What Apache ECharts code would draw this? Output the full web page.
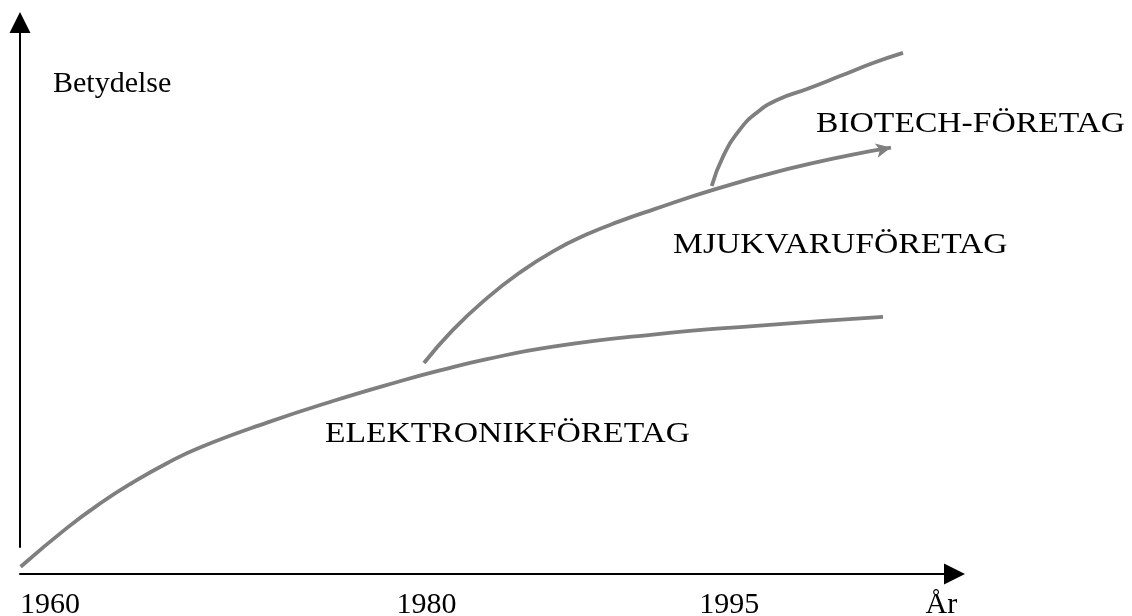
<!DOCTYPE html>
<html>
<head>
<meta charset="utf-8">
<script src="https://cdn.jsdelivr.net/npm/echarts@6/dist/echarts.min.js"></script>
<style>
html,body{margin:0;padding:0;background:#fff;}
#chart{width:1132px;height:616px;}
</style>
</head>
<body>
<div id="chart"></div>
<script>
// Axis tick labels (positions in abstract time units, 0..100 along the x axis)
const xTickValues = [3.2, 43.5, 75.9, 98.6];
const xTickLabels = ['1960', '1980', '1995', 'År'];

// Curves: [time, importance] in abstract units 0..100
const elektronik = [[0.07,1.32],[5.0,8.32],[8.56,12.78],[12.09,16.61],[15.73,20.09],[19.26,22.94],[26.43,27.44],[33.49,31.36],[40.66,34.95],[44.94,36.91],[49.97,38.96],[57.04,41.23],[67.74,43.42],[78.44,44.96],[92.35,46.61]];
const mjukvara = [[43.23,38.26],[46.33,44.26],[49.97,50.02],[53.50,54.68],[57.04,58.51],[60.67,61.59],[64.21,63.98],[67.74,66.07],[74.16,69.66],[82.08,73.40],[88.82,75.97],[93.2,77.33]];
const biotech = [[74.02,70.35],[75.23,75.68],[77.05,80.62],[78.87,83.70],[81.01,85.95],[84.22,87.94],[87.75,90.28],[91.28,92.66],[94.49,94.50]];

const yAxisName = 'Betydelse';
const seriesLabels = ['ELEKTRONIKFÖRETAG', 'MJUKVARUFÖRETAG', 'BIOTECH-FÖRETAG'];

const FONT = '"Liberation Serif", "DejaVu Serif", serif';
const LINE = '#7f7f7f';

const chart = echarts.init(document.getElementById('chart'));

const mjukData = mjukvara.map((p, i) => i === mjukvara.length - 1
  ? { value: p, symbol: 'arrow', symbolSize: [11, 15], symbolRotate: -78, itemStyle: { color: LINE } }
  : { value: p });

const lineSeries = (data) => ({
  type: 'line', xAxisIndex: 0, yAxisIndex: 0, data: data,
  smooth: 0.5, symbol: 'none', silent: true,
  lineStyle: { color: LINE, width: 3.8, cap: 'butt' },
  itemStyle: { color: LINE },
  emphasis: { disabled: true }
});

const capLabel = (x, y, text) => ({
  type: 'text', x: x, y: y, scaleX: 1.12, silent: true,
  style: { text: text, font: '30px ' + FONT, fill: '#000', align: 'left', verticalAlign: 'middle' }
});

chart.setOption({
  animation: false,
  backgroundColor: '#fff',
  grid: [
    { left: 20, right: 177.5, top: 22.5, bottom: 42, outerBoundsMode: 'none', containLabel: false },
    { left: 20, width: 10, top: 22.5, bottom: 69, outerBoundsMode: 'none', containLabel: false }
  ],
  xAxis: [
    {
      type: 'value', gridIndex: 0, min: 0, max: 100,
      axisLine: { show: true, onZero: false, lineStyle: { color: '#000', width: 2 }, symbol: ['none', 'triangle'], symbolSize: [21, 21] },
      axisTick: { show: false },
      splitLine: { show: false },
      axisLabel: {
        customValues: xTickValues,
        formatter: (v) => { const i = xTickValues.findIndex(t => Math.abs(t - v) < 1e-6); return i >= 0 ? xTickLabels[i] : ''; },
        color: '#000', fontFamily: FONT, fontSize: 30, margin: 16
      }
    },
    { type: 'value', gridIndex: 1, show: false, min: 0, max: 1 }
  ],
  yAxis: [
    { type: 'value', gridIndex: 0, min: 0, max: 100, show: false },
    {
      type: 'value', gridIndex: 1, min: 0, max: 1,
      axisLine: { show: true, onZero: false, lineStyle: { color: '#000', width: 2 }, symbol: ['none', 'triangle'], symbolSize: [21, 21] },
      axisTick: { show: false }, axisLabel: { show: false }, splitLine: { show: false }
    }
  ],
  series: [
    lineSeries(elektronik),
    lineSeries(mjukData),
    lineSeries(biotech)
  ],
  graphic: [
    { type: 'text', x: 53, y: 84.5, silent: true, style: { text: yAxisName, font: '30px ' + FONT, fill: '#000', align: 'left', verticalAlign: 'middle' } },
    capLabel(325, 434, seriesLabels[0]),
    capLabel(673, 245, seriesLabels[1]),
    capLabel(816, 124.5, seriesLabels[2])
  ]
});
</script>
</body>
</html>
